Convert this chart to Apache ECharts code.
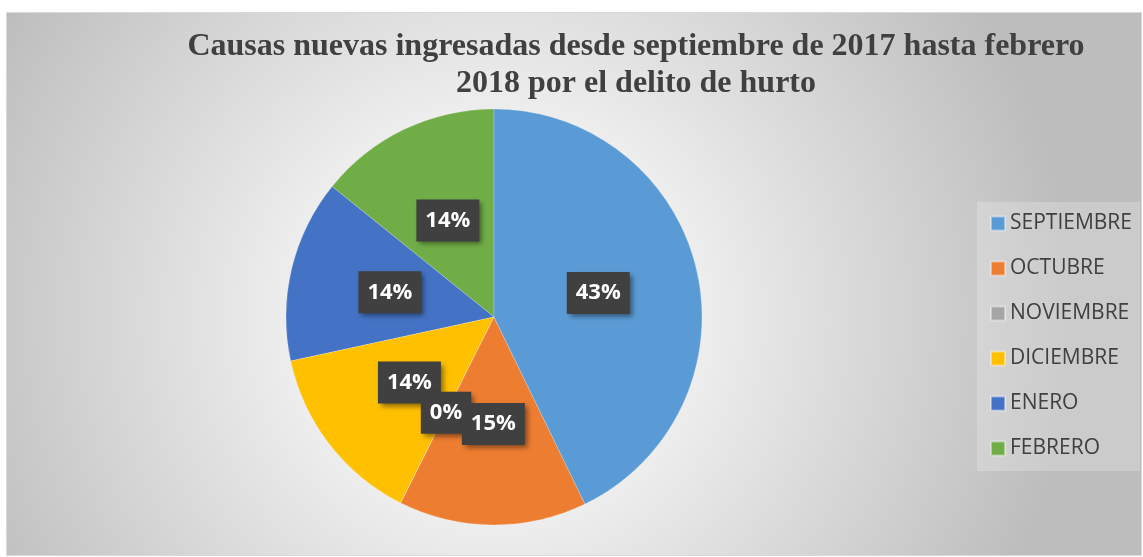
<!DOCTYPE html>
<html>
<head>
<meta charset="utf-8">
<script src="https://cdn.jsdelivr.net/npm/echarts@6/dist/echarts.min.js"></script>
<style>
html,body{margin:0;padding:0;background:#ffffff;}
#chart{width:1143px;height:557px;}
</style>
</head>
<body>
<div id="chart"></div>
<script>
var titleText = 'Causas nuevas ingresadas desde septiembre de 2017 hasta febrero\n2018 por el delito de hurto';
var categories = ['SEPTIEMBRE', 'OCTUBRE', 'NOVIEMBRE', 'DICIEMBRE', 'ENERO', 'FEBRERO'];
var values = [42.8, 14.6, 0, 14.2, 14.2, 14.2];
var colors = ['#5B9BD5', '#ED7D31', '#A5A5A5', '#FFC000', '#4472C4', '#70AD47'];

var total = values.reduce(function (a, b) { return a + b; }, 0);
var chart = echarts.init(document.getElementById('chart'));
// drawn in reverse order, counter-clockwise, so later labels overlap like the original
var data = categories.map(function (c, i) {
  return {
    name: c,
    value: values[i] === 0 ? 0.01 : values[i],
    realValue: values[i],
    itemStyle: { color: colors[i] },
    label: { show: true }
  };
}).reverse();
chart.setOption({
  backgroundColor: '#ffffff',
  animation: false,
  graphic: [{
    type: 'rect',
    left: 6, top: 12, z: -10,
    shape: { width: 1135, height: 543 },
    style: {
      fill: {
        type: 'radial', x: 0.43, y: 0.56, r: 1.06,
        colorStops: [{ offset: 0, color: '#ffffff' }, { offset: 0.3, color: '#f2f2f2' }, { offset: 1, color: '#bdbdbd' }]
      },
      stroke: '#d9d9d9', lineWidth: 1
    }
  }],
  title: {
    text: titleText,
    left: 631, top: 23, textAlign: 'center',
    textStyle: {
      fontFamily: 'Liberation Serif', fontWeight: 'bold', fontSize: 32,
      color: '#404040', lineHeight: 37
    }
  },
  legend: {
    orient: 'vertical',
    left: 977, top: 202,
    padding: [11, 8, 12, 13],
    backgroundColor: 'rgba(255,255,255,0.22)',
    itemWidth: 14, itemHeight: 14, itemGap: 24,
    icon: 'rect',
    data: categories,
    textStyle: { fontFamily: 'Open Sans', fontSize: 21, color: '#404040', lineHeight: 21, padding: [0, 0, 0, 0] }
  },
  series: [{
    type: 'pie',
    center: [494, 317],
    radius: 208,
    startAngle: 90,
    clockwise: false,
    avoidLabelOverlap: false,
    stillShowZeroSum: true,
    minShowLabelAngle: 0,
    labelLayout: { hideOverlap: false, moveOverlap: null },
    itemStyle: { borderColor: 'rgba(255,255,255,0.4)', borderWidth: 0.5 },
    label: {
      show: true,
      position: 'inside',
      formatter: function (p) {
        var i = categories.indexOf(p.name);
        return Math.round(values[i] * 100 / total) + '%';
      },
      color: '#ffffff',
      fontFamily: 'Open Sans',
      fontWeight: 'bold',
      fontSize: 22,
      lineHeight: 26,
      backgroundColor: '#404040',
      padding: [8, 9, 8, 9],
      shadowColor: 'rgba(0,0,0,0.45)',
      shadowBlur: 5,
      shadowOffsetX: 3,
      shadowOffsetY: 3
    },
    labelLine: { show: false },
    emphasis: { disabled: true },
    data: data
  }]
});
</script>
</body>
</html>
